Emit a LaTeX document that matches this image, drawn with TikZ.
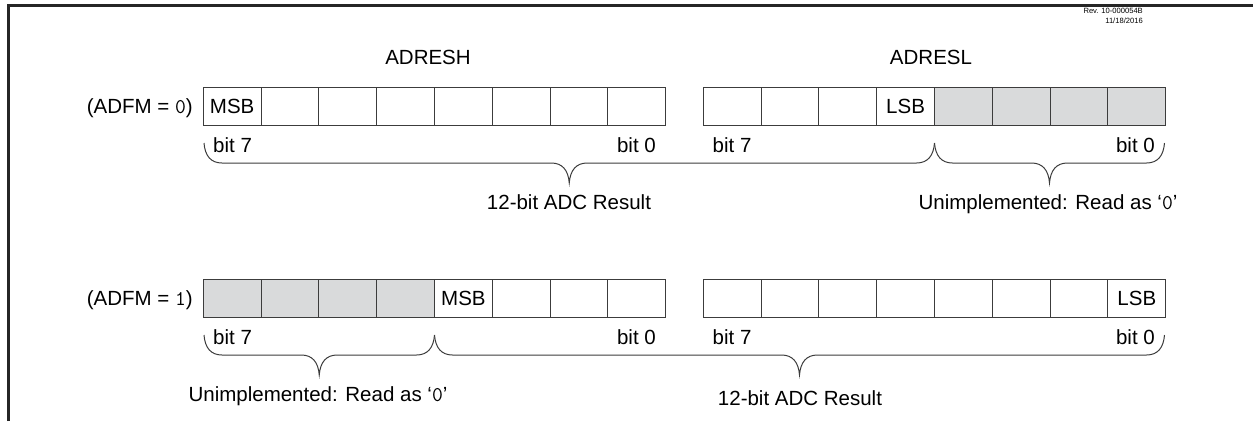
\documentclass[tikz,border=0pt]{standalone}
\usepackage{fontspec}
\setmainfont{Liberation Sans}
\definecolor{shade}{RGB}{217,218,219}
\definecolor{linec}{RGB}{60,60,60}
\newcommand\mybrace[3]{% x1 x2 ytop
 \draw[bracelines] (#1,#3) .. controls (#1+1,#3+13) and (#1+7,#3+20) .. (#1+18,#3+20)
   -- ({(#1+#2)/2-18},#3+20) .. controls ({(#1+#2)/2-7},#3+20) and ({(#1+#2)/2-1},#3+27) .. ({(#1+#2)/2},#3+40)
   .. controls ({(#1+#2)/2+1},#3+27) and ({(#1+#2)/2+7},#3+20) .. ({(#1+#2)/2+18},#3+20)
   -- (#2-18,#3+20) .. controls (#2-7,#3+20) and (#2-1,#3+13) .. (#2,#3);}
\newcommand\mzero{{\ttfamily\fontsize{21}{24}\selectfont 0}}
\newcommand\mone{{\ttfamily\fontsize{21}{24}\selectfont 1}}
\tikzset{
  cell/.style={draw=linec, line width=1pt, minimum width=57.8pt, minimum height=38.5pt, inner sep=0pt, font=\fontsize{20.5}{24}\selectfont, text height=14.6pt, text depth=0pt},
  shaded/.style={cell, fill=shade},
  txt/.style={inner sep=0pt, font=\fontsize{20.5}{24}\selectfont, text height=14.6pt, text depth=0pt},
  small/.style={inner sep=0pt, font=\fontsize{7.6}{10}\selectfont, align=right},
  bracelines/.style={draw=linec, line width=1pt},
  frame/.style={line width=2.5pt, draw=black!85},
}
\begin{document}
\begin{tikzpicture}[x=1pt,y=-1pt]
\useasboundingbox (0,0) rectangle (1253,421);
\draw[frame] (8.7,421) -- (8.7,5.5) -- (1253,5.5);
\node[small, anchor=north east] (rev) at (1143,8) {Rev. 10-000054B\\11/18/2016};
% register names
\node[txt] (adresh) at (428,57) {ADRESH};
\node[txt] (adresl) at (931,57) {ADRESL};
% row 1 (ADFM = 0)
\node[txt, anchor=east] (fm0) at (193,106.5) {(ADFM = \mzero)};
\foreach \i in {0,...,7} {
  \node[cell] (ah\i) at ({203.3+57.8*(\i+0.5)},106.5) {};
}
\foreach \i in {0,...,3} {
  \node[cell] (al\i) at ({703.3+57.8*(\i+0.5)},106.5) {};
}
\foreach \i in {4,...,7} {
  \node[shaded] (al\i) at ({703.3+57.8*(\i+0.5)},106.5) {};
}
\node[txt] (msba) at (ah0) {MSB};
\node[txt] (lsba) at (al3) {LSB};
\node[txt, anchor=west] (b7a) at (213,145) {bit 7};
\node[txt, anchor=east] (b0a) at (656,145) {bit 0};
\node[txt, anchor=west] (b7b) at (712.5,145) {bit 7};
\node[txt, anchor=east] (b0b) at (1155,145) {bit 0};
\mybrace{204}{934.5}{143}
\mybrace{934.5}{1164.5}{143}
\node[txt] (resa) at (569,202) {12-bit ADC Result};
\node[txt] (unia) at (1048,202) {Unimplemented: Read as ‘\mzero’};
% row 2 (ADFM = 1)
\node[txt, anchor=east] (fm1) at (193,298.5) {(ADFM = \mone)};
\foreach \i in {0,...,3} {
  \node[shaded] (bh\i) at ({203.3+57.8*(\i+0.5)},298.5) {};
}
\foreach \i in {4,...,7} {
  \node[cell] (bh\i) at ({203.3+57.8*(\i+0.5)},298.5) {};
}
\foreach \i in {0,...,7} {
  \node[cell] (bl\i) at ({703.3+57.8*(\i+0.5)},298.5) {};
}
\node[txt] (msbb) at (bh4) {MSB};
\node[txt] (lsbb) at (bl7) {LSB};
\node[txt, anchor=west] (b7c) at (213,337) {bit 7};
\node[txt, anchor=east] (b0c) at (656,337) {bit 0};
\node[txt, anchor=west] (b7d) at (712.5,337) {bit 7};
\node[txt, anchor=east] (b0d) at (1155,337) {bit 0};
\mybrace{204}{434.5}{335}
\mybrace{434.5}{1164.5}{335}
\node[txt] (unib) at (318,394) {Unimplemented: Read as ‘\mzero’};
\node[txt] (resb) at (800,398) {12-bit ADC Result};
\end{tikzpicture}
\end{document}
